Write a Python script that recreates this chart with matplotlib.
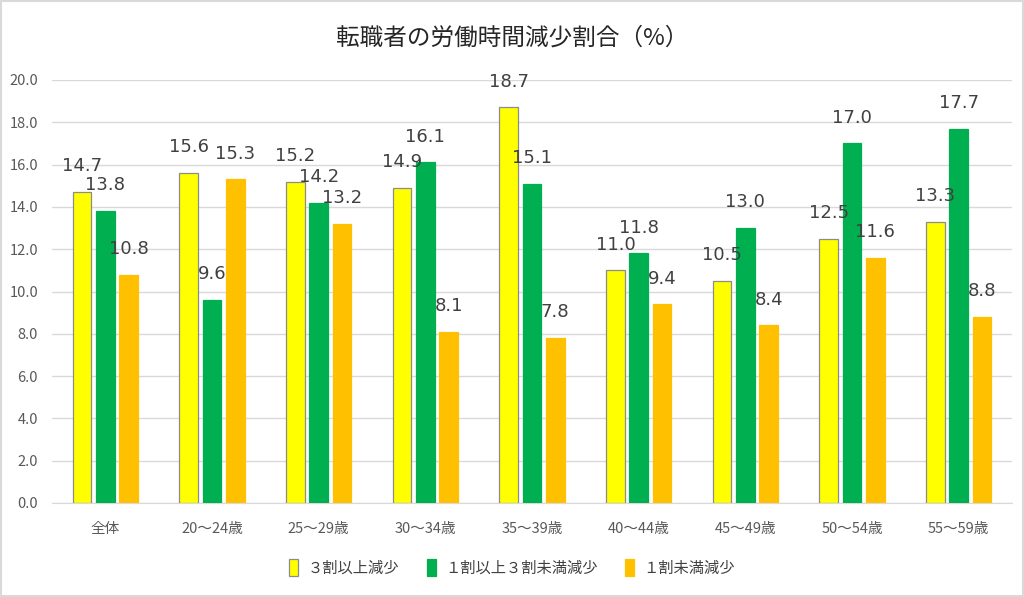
import numpy as np
import matplotlib.pyplot as plt

plt.rcParams['font.family'] = ['Noto Sans CJK JP', 'DejaVu Sans']

categories = ['全体', '20～24歳', '25～29歳', '30～34歳', '35～39歳',
              '40～44歳', '45～49歳', '50～54歳', '55～59歳']
s1 = [14.7, 15.6, 15.2, 14.9, 18.7, 11.0, 10.5, 12.5, 13.3]
s2 = [13.8, 9.6, 14.2, 16.1, 15.1, 11.8, 13.0, 17.0, 17.7]
s3 = [10.8, 15.3, 13.2, 8.1, 7.8, 9.4, 8.4, 11.6, 8.8]
names = ['３割以上減少', '１割以上３割未満減少', '１割未満減少']
colors = ['#FFFF00', '#00B050', '#FFC000']

fig = plt.figure(figsize=(10.24, 5.97), dpi=100)
ax = fig.add_axes([52/1024, 1-503/597, 960/1024, 423/597])

x = np.arange(len(categories))
w = 0.175
step = 0.218
for i, (vals, c) in enumerate(zip([s1, s2, s3], colors)):
    ec = '#8C8C8C' if i == 0 else c
    bars = ax.bar(x + (i-1)*step, vals, w, color=c, edgecolor=ec, linewidth=0.9,
                  label=names[i], zorder=3)
    for b, v in zip(bars, vals):
        ax.annotate(f'{v:.1f}', (b.get_x() + b.get_width()/2, v),
                    xytext=(0, 12), textcoords='offset points',
                    ha='center', va='bottom', fontsize=13, color='#404040',
                    family='DejaVu Sans', zorder=4)

ax.set_ylim(0, 20)
ax.set_xlim(-0.5, len(categories)-0.5)
ax.set_yticks(np.arange(0, 21, 2))
ax.set_yticklabels([f'{v:.1f}' for v in np.arange(0, 21, 2)])
ax.set_xticks(x)
ax.set_xticklabels(categories)
ax.tick_params(axis='both', length=0, colors='#595959', labelsize=10.5)
ax.tick_params(axis='x', pad=14)
ax.tick_params(axis='y', pad=10)
ax.grid(axis='y', color='#D9D9D9', linewidth=1, zorder=0)
for s in ['top', 'right', 'left']:
    ax.spines[s].set_visible(False)
ax.spines['bottom'].set_color('#D9D9D9')

fig.text(0.5, 1-38/597, '転職者の労働時間減少割合（%）', ha='center', va='center',
         fontsize=17, color='#262626')

fig.legend(loc='center', bbox_to_anchor=(0.5, 1-568/597), ncol=3, frameon=False,
           fontsize=11, labelcolor='#404040', handlelength=0.6, handleheight=1.3,
           columnspacing=1.8, handletextpad=0.6)

fig.patches.append(plt.Rectangle((0.001, 0.001), 0.998, 0.997, transform=fig.transFigure,
                                 fill=False, edgecolor='#D9D9D9', linewidth=1.5))
fig.savefig('out.png', dpi=100)
